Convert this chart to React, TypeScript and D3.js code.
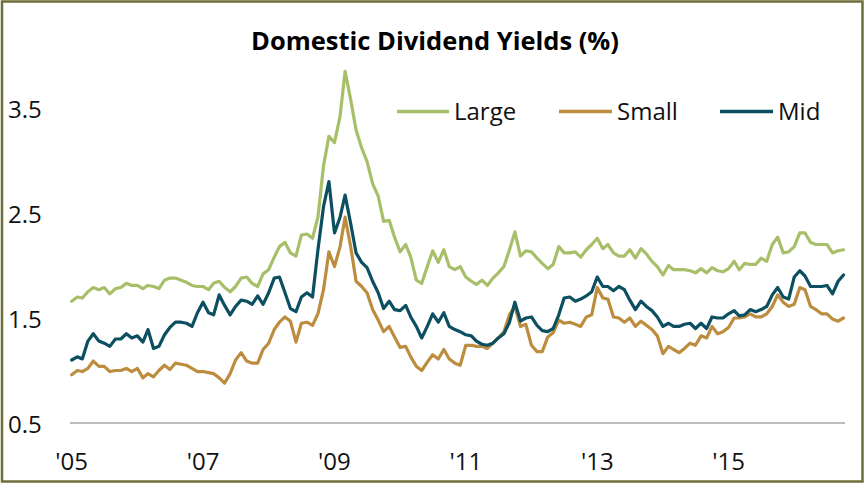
import React from "react";
import * as d3 from "d3";

const startYear = 2005;
const seriesNames = ["Large", "Small", "Mid"];
const seriesColors = ["#A8BF6A", "#BD8D3F", "#0B4F60"];

const largeValues = [
  1.66, 1.70, 1.69, 1.75, 1.79, 1.77, 1.79, 1.73, 1.78, 1.79, 1.83, 1.81, 1.81, 1.78, 1.81, 1.80, 1.78, 1.86, 1.88, 1.88, 1.86, 1.84, 1.81, 1.80, 1.80,
  1.77, 1.83, 1.85, 1.79, 1.75, 1.80, 1.88, 1.89, 1.83, 1.80, 1.92, 1.96, 2.08, 2.18, 2.22, 2.12, 2.09, 2.29, 2.30, 2.26,
  2.46, 2.95, 3.23, 3.17, 3.42, 3.85, 3.58, 3.29, 3.12, 2.99, 2.78, 2.66, 2.42, 2.43, 2.27, 2.13, 2.20, 2.08, 1.86, 1.83, 1.99, 2.14, 2.03, 2.15, 1.99, 1.96, 1.99, 1.89,
  1.85, 1.82, 1.86, 1.81, 1.88, 1.93, 1.99, 2.15, 2.32, 2.09, 2.14, 2.13, 2.07, 2.02, 1.97, 2.01, 2.18, 2.12, 2.12, 2.13, 2.08, 2.15, 2.20, 2.26,
  2.16, 2.20, 2.12, 2.09, 2.09, 2.15, 2.07, 2.16, 2.11, 2.04, 1.99, 1.91, 2.00, 1.96, 1.96, 1.96, 1.95, 1.93, 1.97, 1.93, 1.98, 1.95, 1.94,
  1.97, 2.04, 1.96, 2.02, 2.01, 2.01, 2.07, 2.04, 2.20, 2.27, 2.12, 2.13, 2.18, 2.31, 2.31, 2.22, 2.20, 2.20, 2.20, 2.12, 2.14, 2.15,
];

const smallValues = [
  0.96, 1.00, 0.99, 1.02, 1.09, 1.04, 1.04, 0.99, 1.00, 1.00, 1.02, 0.99, 1.02, 0.93, 0.97, 0.94, 1.00, 1.05, 1.01, 1.07, 1.06, 1.05, 1.02, 0.99, 0.99,
  0.98, 0.97, 0.93, 0.88, 0.97, 1.10, 1.17, 1.09, 1.07, 1.07, 1.20, 1.26, 1.39, 1.46, 1.51, 1.47, 1.27, 1.45, 1.46, 1.43, 1.54, 1.77,
  2.13, 1.99, 2.18, 2.46, 2.18, 1.85, 1.80, 1.74, 1.58, 1.48, 1.37, 1.42, 1.32, 1.22, 1.23, 1.13, 1.04, 1.00, 1.08, 1.15, 1.11, 1.20, 1.11, 1.07, 1.05, 1.24,
  1.24, 1.23, 1.23, 1.21, 1.26, 1.31, 1.37, 1.53, 1.61, 1.42, 1.44, 1.24, 1.18, 1.18, 1.32, 1.36, 1.48, 1.45, 1.46, 1.44, 1.42, 1.51, 1.53, 1.79,
  1.69, 1.68, 1.51, 1.50, 1.46, 1.50, 1.42, 1.47, 1.43, 1.39, 1.33, 1.16, 1.23, 1.20, 1.17, 1.21, 1.26, 1.24, 1.33, 1.31, 1.42, 1.35, 1.37,
  1.41, 1.50, 1.50, 1.51, 1.54, 1.51, 1.51, 1.54, 1.61, 1.72, 1.65, 1.61, 1.63, 1.79, 1.77, 1.61, 1.58, 1.54, 1.54, 1.49, 1.47, 1.50,
];

const midValues = [
  1.10, 1.13, 1.11, 1.28, 1.35, 1.28, 1.26, 1.23, 1.30, 1.30, 1.35, 1.31, 1.33, 1.27, 1.39, 1.21, 1.23, 1.34, 1.41, 1.46, 1.46, 1.45, 1.42, 1.55, 1.65,
  1.55, 1.53, 1.72, 1.62, 1.53, 1.61, 1.67, 1.66, 1.63, 1.71, 1.63, 1.74, 1.88, 1.89, 1.74, 1.59, 1.56, 1.70, 1.74, 1.70, 2.15, 2.56,
  2.80, 2.31, 2.46, 2.67, 2.40, 2.12, 2.03, 1.98, 1.85, 1.74, 1.59, 1.66, 1.58, 1.57, 1.62, 1.51, 1.42, 1.31, 1.42, 1.54, 1.46, 1.55, 1.42, 1.39, 1.37, 1.34,
  1.33, 1.28, 1.25, 1.24, 1.26, 1.31, 1.35, 1.46, 1.65, 1.47, 1.50, 1.51, 1.43, 1.38, 1.37, 1.40, 1.53, 1.69, 1.70, 1.66, 1.68, 1.71, 1.75, 1.89,
  1.80, 1.80, 1.76, 1.80, 1.77, 1.67, 1.58, 1.66, 1.61, 1.57, 1.51, 1.42, 1.45, 1.42, 1.42, 1.44, 1.45, 1.40, 1.45, 1.40, 1.51, 1.50, 1.50,
  1.54, 1.57, 1.52, 1.53, 1.58, 1.56, 1.58, 1.61, 1.72, 1.79, 1.70, 1.68, 1.89, 1.95, 1.90, 1.80, 1.80, 1.80, 1.81, 1.73, 1.85, 1.91,
];

const yTicks = [0.5, 1.5, 2.5, 3.5];
const xTickYears = [2005, 2007, 2009, 2011, 2013, 2015];

const W = 865;
const H = 483;
const FONT = "'Open Sans', 'Noto Sans', sans-serif";

export default function App() {
  const allSeries = [largeValues, smallValues, midValues];
  const dates = largeValues.map((_, i) => new Date(startYear, i, 1));

  const x = d3
    .scaleTime()
    .domain([dates[0], dates[dates.length - 1]])
    .range([71.7, 843.5]);
  const y = d3.scaleLinear().domain([0.5, 3.5]).range([423, 108]);

  const line = d3
    .line<number>()
    .x((_, i) => x(dates[i]))
    .y((d) => y(d));

  const fmtYear = d3.timeFormat("'%y");

  const legendItems = [
    { x1: 397, x2: 449, tx: 454 },
    { x1: 559, x2: 612, tx: 617 },
    { x1: 720, x2: 773, tx: 778 },
  ];

  return (
    <svg
      width={W}
      height={H}
      style={{ position: "absolute", left: 0, top: 0, background: "#fff" }}
      fontFamily={FONT}
    >
      <rect x={0} y={0} width={W} height={H} fill="#ffffff" />
      <rect
        x={2}
        y={1.5}
        width={W - 4.5}
        height={H - 3}
        fill="none"
        stroke="#6E6E3A"
        strokeWidth={2.5}
      />
      <text
        x={435}
        y={50}
        textAnchor="middle"
        fontSize={25.5}
        fontWeight="bold"
        fill="#000"
      >
        Domestic Dividend Yields (%)
      </text>

      {yTicks.map((t) => (
        <text
          key={t}
          x={8}
          y={y(t)}
          dominantBaseline="central"
          fontSize={24}
          fill="#111"
        >
          {t.toFixed(1)}
        </text>
      ))}

      <line
        x1={70}
        x2={845}
        y1={y(0.5)}
        y2={y(0.5)}
        stroke="#A6A6A6"
        strokeWidth={1.5}
      />

      {xTickYears.map((yr) => (
        <text
          key={yr}
          x={x(new Date(yr, 0, 1))}
          y={470}
          textAnchor="middle"
          fontSize={24}
          fill="#111"
        >
          {fmtYear(new Date(yr, 0, 1))}
        </text>
      ))}

      {allSeries.map((vals, k) => (
        <path
          key={seriesNames[k]}
          d={line(vals) || ""}
          fill="none"
          stroke={seriesColors[k]}
          strokeWidth={3.2}
          strokeLinejoin="round"
          strokeLinecap="round"
        />
      ))}

      {seriesNames.map((name, k) => (
        <g key={name}>
          <line
            x1={legendItems[k].x1}
            x2={legendItems[k].x2}
            y1={111.5}
            y2={111.5}
            stroke={seriesColors[k]}
            strokeWidth={3.5}
          />
          <text x={legendItems[k].tx} y={120} fontSize={24} fill="#111">
            {name}
          </text>
        </g>
      ))}
    </svg>
  );
}
